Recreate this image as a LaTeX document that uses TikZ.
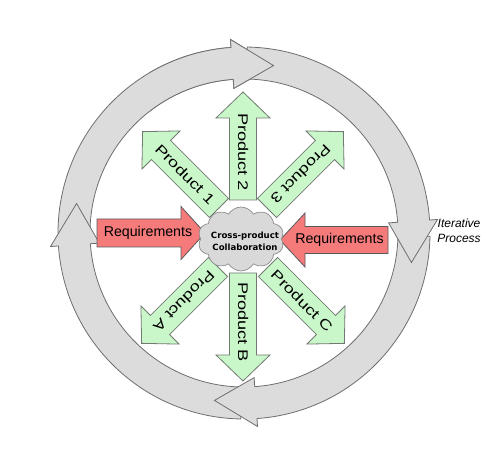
\documentclass[tikz,border=0pt]{standalone}
\usepackage{fontspec}
\setmainfont{Liberation Sans}
\newfontfamily\cloudfont{DejaVu Sans}
\newfontfamily\prodfont[FakeStretch=1.3]{Liberation Sans}
\usetikzlibrary{shapes.symbols}
\definecolor{ringfill}{HTML}{DCDCDC}
\definecolor{ringline}{HTML}{6E6E6E}
\definecolor{greenfill}{HTML}{CAF7CA}
\definecolor{greenline}{HTML}{707A70}
\definecolor{redfill}{HTML}{F57A7A}
\definecolor{redline}{HTML}{5A5A5A}
\definecolor{cloudfill}{HTML}{D9D9D9}
\definecolor{cloudline}{HTML}{8C8C8C}
% ring arrow: tail angle, head base angle, tip angle
\newcommand\ringarrow[3]{%
  \path[ring] (#1:186pt) arc[start angle=#1, end angle=#2, radius=186pt]
    -- (#2:194pt) -- (#3:170pt) -- (#2:145pt) -- (#2:154pt)
    arc[start angle=#2, end angle=#1, radius=154pt] -- cycle;}
% straight block arrow: style, tail, angle, length, shaft half width, head half width, head length
\newcommand\shapearrow[7]{%
  \begin{scope}[shift={#2}, rotate=#3]
    \path[#1] (0,-#5) -- ({#4-#7},-#5) -- ({#4-#7},-#6) -- (#4,0)
      -- ({#4-#7},#6) -- ({#4-#7},#5) -- (0,#5) -- cycle;
  \end{scope}}
\begin{document}
\begin{tikzpicture}[x=1pt,y=1pt,
  ring/.style={fill=ringfill, draw=ringline, line width=0.8pt, line join=miter},
  garrow/.style={fill=greenfill, draw=greenline, line width=0.8pt},
  rarrow/.style={fill=redfill, draw=redline, line width=0.8pt},
  ptext/.style={font=\prodfont\fontsize{14}{16}\selectfont, inner sep=0pt},
  rtext/.style={font=\fontsize{14.2}{16}\selectfont, inner sep=0pt},
  cloudbox/.style={cloud, cloud puffs=10, cloud puff arc=120, aspect=1.35,
    fill=cloudfill, draw=cloudline, line width=0.7pt,
    minimum width=86pt, minimum height=64pt, inner sep=0pt},
  ctext/.style={font=\cloudfont\bfseries\fontsize{8.6}{12}\selectfont, align=center, inner sep=0pt},
  itext/.style={font=\itshape\fontsize{12}{14.5}\selectfont, align=center, inner sep=0pt}
]
\useasboundingbox (0,0) rectangle (500,458);

% iterative ring
\begin{scope}[shift={(244,225)}]
  \ringarrow{180}{94}{80}
  \ringarrow{-91}{-176}{-190}
  \ringarrow{-1}{-86}{-100}
  \ringarrow{89}{4}{-10}
\end{scope}
\begin{scope}
  \clip (150,330) rectangle (350,458);
  \begin{scope}[shift={(244,225)}]
    \ringarrow{180}{94}{80}
  \end{scope}
\end{scope}

% product arrows
\shapearrow{garrow}{(243,258)}{90}{108}{13.5}{27}{26}
\shapearrow{garrow}{(243,185)}{-90}{108}{13.5}{27}{26}
\shapearrow{garrow}{(219,250)}{135}{108}{13.5}{27}{26}
\shapearrow{garrow}{(267,250)}{45}{108}{13.5}{27}{26}
\shapearrow{garrow}{(218,191)}{225}{108}{13.5}{27}{26}
\shapearrow{garrow}{(268,191)}{-45}{108}{13.5}{27}{26}

% requirement arrows
\shapearrow{rarrow}{(97,225)}{0}{108}{14}{26.5}{24}
\shapearrow{rarrow}{(388,218)}{180}{108}{13.5}{27}{25}

% cloud
\node[cloudbox] (cloud) at (241,219) {};
\node[ctext] (collab) at (245,217) {Cross-product\\Collaboration};

% labels
\node[ptext, rotate=-90] (p2) at (243,306) {Product 2};
\node[ptext, rotate=-90] (pB) at (243,136) {Product B};
\node[ptext, rotate=-45] (p1) at (185.1,283.9) {Product 1};
\node[ptext, rotate=225] (p3) at (300.9,283.9) {Product 3};
\node[ptext, rotate=225] (pA) at (184.1,157.1) {Product A};
\node[ptext, rotate=-45] (pC) at (301.9,157.1) {Product C};
\node[rtext] (req1) at (148,225) {Requirements};
\node[rtext] (req2) at (339.5,218) {Requirements};
\node[itext] (iter) at (459,227.5) {Iterative\\Process};
\end{tikzpicture}
\end{document}
